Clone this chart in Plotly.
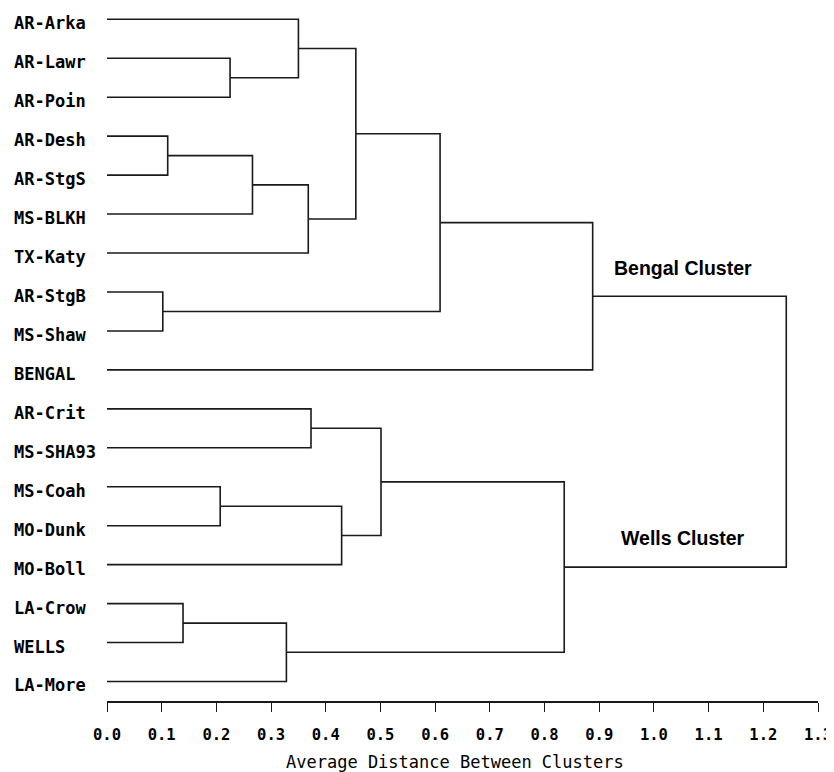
import plotly.graph_objects as go

# Leaves in display order (top to bottom)
leaves = ["AR-Arka", "AR-Lawr", "AR-Poin", "AR-Desh", "AR-StgS", "MS-BLKH",
          "TX-Katy", "AR-StgB", "MS-Shaw", "BENGAL", "AR-Crit", "MS-SHA93",
          "MS-Coah", "MO-Dunk", "MO-Boll", "LA-Crow", "WELLS", "LA-More"]

# Linkage (ids 0..17 are leaves, each merge creates id 18, 19, ...)
merge_left = [7, 3, 15, 12, 1, 19, 20, 0, 23, 10, 21, 25, 27, 29, 30, 31, 33]
merge_right = [8, 4, 16, 13, 2, 5, 17, 22, 6, 11, 14, 26, 28, 18, 24, 9, 32]
merge_height = [0.102, 0.111, 0.139, 0.207, 0.225, 0.266, 0.328, 0.350, 0.368,
                0.373, 0.429, 0.455, 0.501, 0.609, 0.836, 0.888, 1.242]

x_ticks = [0.0, 0.1, 0.2, 0.3, 0.4, 0.5, 0.6, 0.7, 0.8, 0.9, 1.0, 1.1, 1.2, 1.3]
cluster_labels = ["Bengal Cluster", "Wells Cluster"]
cluster_nodes = [33, 32]
cluster_label_x = 1.053
cluster_label_shift = [15, 16]
x_title = "Average Distance Between Clusters"

n = len(leaves)
pos_y = {i: float(i) for i in range(n)}
pos_x = {i: 0.0 for i in range(n)}
xs, ys = [], []
for k, (a, b, h) in enumerate(zip(merge_left, merge_right, merge_height)):
    nid = n + k
    xs += [pos_x[a], h, h, pos_x[b], None]
    ys += [pos_y[a], pos_y[a], pos_y[b], pos_y[b], None]
    pos_x[nid] = h
    pos_y[nid] = (pos_y[a] + pos_y[b]) / 2

fig = go.Figure()
fig.add_trace(go.Scatter(x=xs, y=ys, mode="lines",
                         line=dict(color="#1a1a1a", width=1.6),
                         hoverinfo="skip", showlegend=False))

width = max(len(s) for s in leaves)
ticktext = [s + "\u00a0" * (width - len(s)) for s in leaves]

for lab, node, sh in zip(cluster_labels, cluster_nodes, cluster_label_shift):
    fig.add_annotation(x=cluster_label_x, y=pos_y[node],
                       text="<b>%s</b>" % lab, showarrow=False,
                       yanchor="bottom", yshift=sh,
                       font=dict(family="Liberation Sans, Arial", size=19.5,
                                 color="black"))

mono = "DejaVu Sans Mono"
fig.add_annotation(xref="paper", yref="paper", x=0.489, y=0, yshift=-61,
                   xanchor="center", yanchor="middle", showarrow=False,
                   text=x_title,
                   font=dict(family=mono, size=17, color="black"))

# page body has an 8px margin; figure sized to the 834x772 window
fig.update_layout(
    width=826, height=764,
    margin=dict(l=99, r=15.5, t=0, b=70.5),
    plot_bgcolor="white", paper_bgcolor="white",
    xaxis=dict(range=[0, 1.3], tickvals=x_ticks,
               ticktext=["%.1f" % v for v in x_ticks],
               automargin=False, ticklabeloverflow="allow",
               showgrid=False, zeroline=False, showline=True,
               linecolor="#1a1a1a", linewidth=1.6,
               ticks="outside", ticklen=9, tickwidth=1.4, tickcolor="#1a1a1a",
               ticklabelstandoff=10,
               tickfont=dict(family=mono, size=15.5, color="black",
                             weight="bold")),
    yaxis=dict(range=[n - 0.5, -0.29], tickvals=list(range(n)),
               ticktext=ticktext, showgrid=False, zeroline=False,
               automargin=False, ticklabeloverflow="allow",
               showline=False, ticks="", ticklabelstandoff=10,
               ticklabelshift=-4,
               tickfont=dict(family=mono, size=17, color="black",
                             weight="bold")),
)

fig.write_html("out.html")
